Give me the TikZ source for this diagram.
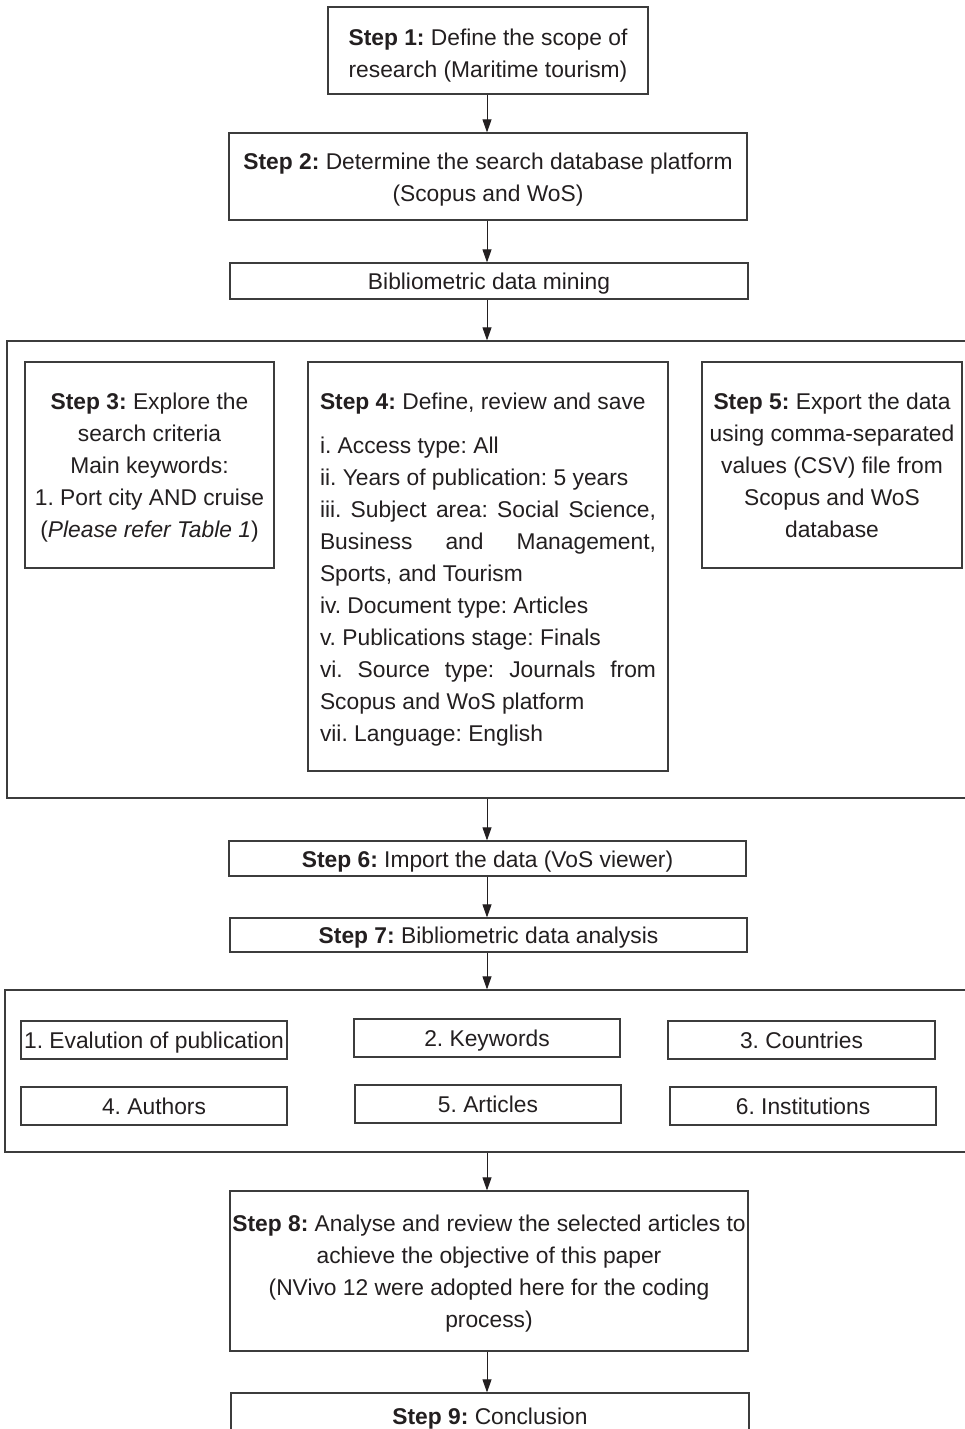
\documentclass[tikz,border=0pt]{standalone}
\usepackage{fontspec}
\setmainfont{Liberation Sans}
\usetikzlibrary{arrows.meta}
\definecolor{ink}{RGB}{35,31,32}
\definecolor{edge}{RGB}{60,60,60}
\hyphenpenalty=10000
\exhyphenpenalty=10000
\frenchspacing
\newcommand{\topstrut}{\rule{0pt}{24.8pt}}
\newcommand{\bigtopstrut}{\rule{0pt}{28.8pt}}
\newcommand{\botstrut}{\rule[-7pt]{0pt}{7pt}}
\tikzset{
  every node/.style={text=ink, font=\fontsize{22.8}{32}\selectfont\frenchspacing},
  box/.style={draw=edge, line width=1.2pt, inner sep=0pt, align=center},
  frame/.style={draw=edge, line width=1.2pt, inner sep=0pt},
  arr/.style={draw=ink, line width=0.9pt, -{Triangle[length=13pt,width=9pt]}}
}
\begin{document}
\begin{tikzpicture}[x=1pt,y=-1pt]
\clip (0,0) rectangle (965,1429);
\fill[white] (0,0) rectangle (965,1429);
\coordinate (ax) at (487,0);

\node[box, minimum width=320pt, minimum height=87pt] (s1) at (488,50.5)
  {\bigtopstrut\textbf{Step 1:} Define the scope of\\research (Maritime tourism)\botstrut};
\node[box, minimum width=518pt, minimum height=87pt] (s2) at (488,176.5)
  {\topstrut\textbf{Step 2:} Determine the search database platform\\(Scopus and WoS)\botstrut};
\node[box, minimum width=518pt, minimum height=36pt] (bib) at (489,281)
  {\topstrut Bibliometric data mining\botstrut};

\node[frame, minimum width=963pt, minimum height=457pt] (big1) at (488.5,569.5) {};
\node[box, minimum width=249pt, minimum height=206pt] (s3) at (149.5,465)
  {\topstrut\textbf{Step 3:} Explore the\\search criteria\\Main keywords:\\1. Port city AND cruise\\(\textit{Please refer Table 1})\botstrut};
\node[draw=edge, line width=1.2pt, inner xsep=12pt, inner ysep=0pt, text width=336pt, align=justify,
      minimum width=360pt, minimum height=409pt] (s4) at (488,566.5)
  {\topstrut\textbf{Step 4:} Define, review and save\\[12pt]
   i. Access type: All\\
   ii. Years of publication: 5 years\\
   iii. Subject area: Social Science,\linebreak Business and Management,\linebreak Sports, and Tourism\\
   iv. Document type: Articles\\
   v. Publications stage: Finals\\
   vi. Source type: Journals from\linebreak Scopus and WoS platform\\
   vii. Language: English\botstrut};
\node[box, minimum width=260pt, minimum height=206pt] (s5) at (832,465)
  {\topstrut\textbf{Step 5:} Export the data\\using comma-separated\\values (CSV) file from\\Scopus and WoS\\database\botstrut};

\node[box, minimum width=517pt, minimum height=35pt] (s6) at (487.5,858.5)
  {\topstrut\textbf{Step 6:} Import the data (VoS viewer)\botstrut};
\node[box, minimum width=517pt, minimum height=34pt] (s7) at (488.5,935)
  {\topstrut\textbf{Step 7:} Bibliometric data analysis\botstrut};

\node[frame, minimum width=965pt, minimum height=162pt] (big2) at (487.5,1071) {};
\node[box, minimum width=266pt, minimum height=38pt] (k1) at (154,1040) {\topstrut 1. Evalution of publication\botstrut};
\node[box, minimum width=266pt, minimum height=38pt] (k2) at (487,1038) {\topstrut 2. Keywords\botstrut};
\node[box, minimum width=267pt, minimum height=38pt] (k3) at (801.5,1040) {\topstrut 3. Countries\botstrut};
\node[box, minimum width=266pt, minimum height=38pt] (k4) at (154,1106) {\topstrut 4. Authors\botstrut};
\node[box, minimum width=266pt, minimum height=38pt] (k5) at (488,1104) {\topstrut 5. Articles\botstrut};
\node[box, minimum width=266pt, minimum height=38pt] (k6) at (803,1106) {\topstrut 6. Institutions\botstrut};

\node[box, minimum width=518pt, minimum height=160pt] (s8) at (489,1271)
  {\topstrut\textbf{Step 8:} Analyse and review the selected articles to\\achieve the objective of this paper\\(NVivo 12 were adopted here for the coding\\process)\botstrut};
\node[box, minimum width=518pt, minimum height=46pt] (s9) at (490,1416)
  {\topstrut\textbf{Step 9:} Conclusion\botstrut};

\draw[arr] (s1.south -| ax) -- (s2.north -| ax);
\draw[arr] (s2.south -| ax) -- (bib.north -| ax);
\draw[arr] (bib.south -| ax) -- (big1.north -| ax);
\draw[arr] (big1.south -| ax) -- (s6.north -| ax);
\draw[arr] (s6.south -| ax) -- (s7.north -| ax);
\draw[arr] (s7.south -| ax) -- (big2.north -| ax);
\draw[arr] (big2.south -| ax) -- (s8.north -| ax);
\draw[arr] (s8.south -| ax) -- (s9.north -| ax);
\end{tikzpicture}
\end{document}
